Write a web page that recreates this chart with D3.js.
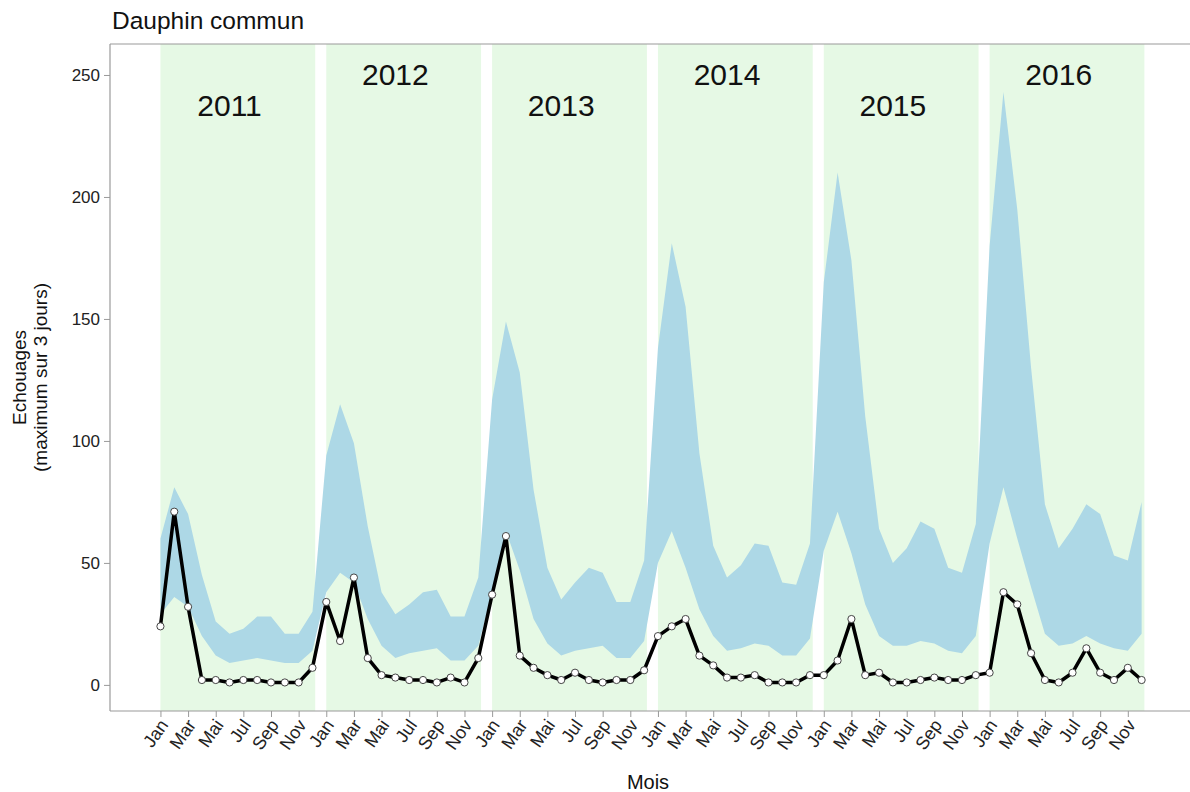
<!DOCTYPE html>
<html>
<head>
<meta charset="utf-8">
<script src="https://cdn.jsdelivr.net/npm/d3@7"></script>
<style>
  body { margin: 0; background: #fff; }
  svg { font-family: "Liberation Sans", Arial, sans-serif; }
</style>
</head>
<body>
<div id="chart"></div>
<script>
// years shown on the chart
const years = [2011, 2012, 2013, 2014, 2015, 2016];
// month tick labels (every second month)
const monthLabels = ["Jan", "Mar", "Mai", "Jul", "Sep", "Nov"];

// observed strandings (max over 3 days), Jan 2011 -> Dec 2016
const echouages = [
    24, 71, 32, 2, 2, 1, 2, 2, 1, 1, 1, 7,
    34, 18, 44, 11, 4, 3, 2, 2, 1, 3, 1, 11,
    37, 61, 12, 7, 4, 2, 5, 2, 1, 2, 2, 6,
    20, 24, 27, 12, 8, 3, 3, 4, 1, 1, 1, 4,
    4, 10, 27, 4, 5, 1, 1, 2, 3, 2, 2, 4,
    5, 38, 33, 13, 2, 1, 5, 15, 5, 2, 7, 2
];

// envelope, upper bound
const bandHigh = [
    60, 81, 70, 45, 26, 21, 23, 28, 28, 21, 21, 30,
    94, 115, 99, 65, 38, 29, 33, 38, 39, 28, 28, 44,
    117, 149, 128, 80, 48, 35, 42, 48, 46, 34, 34, 51,
    138, 181, 155, 95, 57, 44, 49, 58, 57, 42, 41, 58,
    165, 210, 174, 110, 64, 50, 56, 67, 64, 48, 46, 66,
    180, 243, 195, 130, 74, 56, 64, 74, 70, 53, 51, 75
];

// envelope, lower bound
const bandLow = [
    29, 36, 32, 20, 12, 9, 10, 11, 10, 9, 9, 14,
    38, 46, 42, 27, 16, 11, 13, 14, 15, 10, 10, 16,
    38, 63, 47, 27, 17, 12, 14, 15, 16, 11, 11, 18,
    50, 63, 48, 31, 20, 14, 15, 17, 16, 12, 12, 19,
    55, 71, 54, 33, 20, 16, 16, 18, 17, 14, 13, 20,
    58, 81, 60, 40, 21, 16, 17, 20, 17, 15, 14, 21
];

const yTicks = [0, 50, 100, 150, 200, 250];

const width = 1190, height = 792;
const margin = { top: 44, right: 0, bottom: 81, left: 110 };

const svg = d3.select("#chart").append("svg")
    .attr("width", width)
    .attr("height", height);

// month index -> x
const x = d3.scaleLinear()
    .domain([-3.65, 74.5])
    .range([margin.left, width - margin.right]);

const y = d3.scaleLinear()
    .domain([-10.7, 262.7])
    .range([height - margin.bottom, margin.top]);

const months = d3.range(echouages.length);

// green year blocks
svg.selectAll(".year-bg")
    .data(years)
    .enter()
    .append("rect")
    .attr("class", "year-bg")
    .attr("x", (d, i) => x(i * 12))
    .attr("width", (d, i) => x(i * 12 + 11.2) - x(i * 12))
    .attr("y", margin.top)
    .attr("height", y.range()[0] - margin.top)
    .attr("fill", "#e6f9e5");

// year labels, alternating heights
svg.selectAll(".year-label")
    .data(years)
    .enter()
    .append("text")
    .attr("class", "year-label")
    .attr("x", (d, i) => x(i * 12 + 5))
    .attr("y", (d, i) => y(i % 2 === 0 ? 237.5 : 250))
    .attr("dy", "0.35em")
    .attr("text-anchor", "middle")
    .attr("font-size", 30)
    .attr("fill", "#111")
    .text(d => d);

// envelope
const area = d3.area()
    .x(i => x(i))
    .y0(i => y(bandLow[i]))
    .y1(i => y(bandHigh[i]));

svg.append("path")
    .datum(months)
    .attr("d", area)
    .attr("fill", "#add8e6");

// observed line
const line = d3.line()
    .x(i => x(i))
    .y(i => y(echouages[i]));

svg.append("path")
    .datum(months)
    .attr("d", line)
    .attr("fill", "none")
    .attr("stroke", "#000")
    .attr("stroke-width", 3.5)
    .attr("stroke-linejoin", "round");

svg.selectAll(".pt")
    .data(months)
    .enter()
    .append("circle")
    .attr("class", "pt")
    .attr("cx", i => x(i))
    .attr("cy", i => y(echouages[i]))
    .attr("r", 3.6)
    .attr("fill", "#fff")
    .attr("stroke", "#444")
    .attr("stroke-width", 1);

// panel border (top + left + bottom)
const axisColor = "#9a9a9a";
svg.append("line")
    .attr("x1", margin.left).attr("x2", width)
    .attr("y1", margin.top).attr("y2", margin.top)
    .attr("stroke", axisColor).attr("stroke-width", 1.2);

// y axis
const yAxis = svg.append("g")
    .attr("transform", `translate(${margin.left},0)`)
    .call(d3.axisLeft(y).tickValues(yTicks).tickSize(6).tickPadding(4));
yAxis.select(".domain").remove();
yAxis.append("line")
    .attr("x1", 0).attr("x2", 0)
    .attr("y1", margin.top).attr("y2", y.range()[0])
    .attr("stroke", axisColor).attr("stroke-width", 1.2);
yAxis.selectAll(".tick line").attr("stroke", axisColor);
yAxis.selectAll(".tick text")
    .attr("font-size", 17)
    .attr("fill", "#222")
    .attr("font-family", "Liberation Sans, Arial, sans-serif");

// x axis, ticks every second month
const xTickVals = months.filter(i => i % 2 === 0);
const xAxis = svg.append("g")
    .attr("transform", `translate(0,${y.range()[0]})`)
    .call(d3.axisBottom(x).tickValues(xTickVals).tickSize(6)
        .tickFormat(i => monthLabels[(i % 12) / 2]));
xAxis.select(".domain").remove();
xAxis.append("line")
    .attr("x1", margin.left).attr("x2", width)
    .attr("y1", 0).attr("y2", 0)
    .attr("stroke", axisColor).attr("stroke-width", 1.2);
xAxis.selectAll(".tick line").attr("stroke", axisColor);
xAxis.selectAll(".tick text")
    .attr("font-size", 18)
    .attr("fill", "#222")
    .attr("font-family", "Liberation Sans, Arial, sans-serif")
    .attr("text-anchor", "end")
    .attr("y", 0)
    .attr("dy", 0)
    .attr("transform", "translate(8,14) rotate(-55)");

// titles
svg.append("text")
    .attr("x", 112)
    .attr("y", 29)
    .attr("font-size", 24.5)
    .attr("fill", "#111")
    .text("Dauphin commun");

svg.append("text")
    .attr("x", (margin.left + width) / 2 - 2)
    .attr("y", 789)
    .attr("text-anchor", "middle")
    .attr("font-size", 20)
    .attr("fill", "#111")
    .text("Mois");

const yTitle = svg.append("text")
    .attr("transform", `translate(26,${(margin.top + y.range()[0]) / 2}) rotate(-90)`)
    .attr("text-anchor", "middle")
    .attr("font-size", 19)
    .attr("fill", "#111");
yTitle.append("tspan").attr("x", 0).attr("dy", 0).text("Echouages");
yTitle.append("tspan").attr("x", 0).attr("dy", "1.12em").text("(maximum sur 3 jours)");
</script>
</body>
</html>
